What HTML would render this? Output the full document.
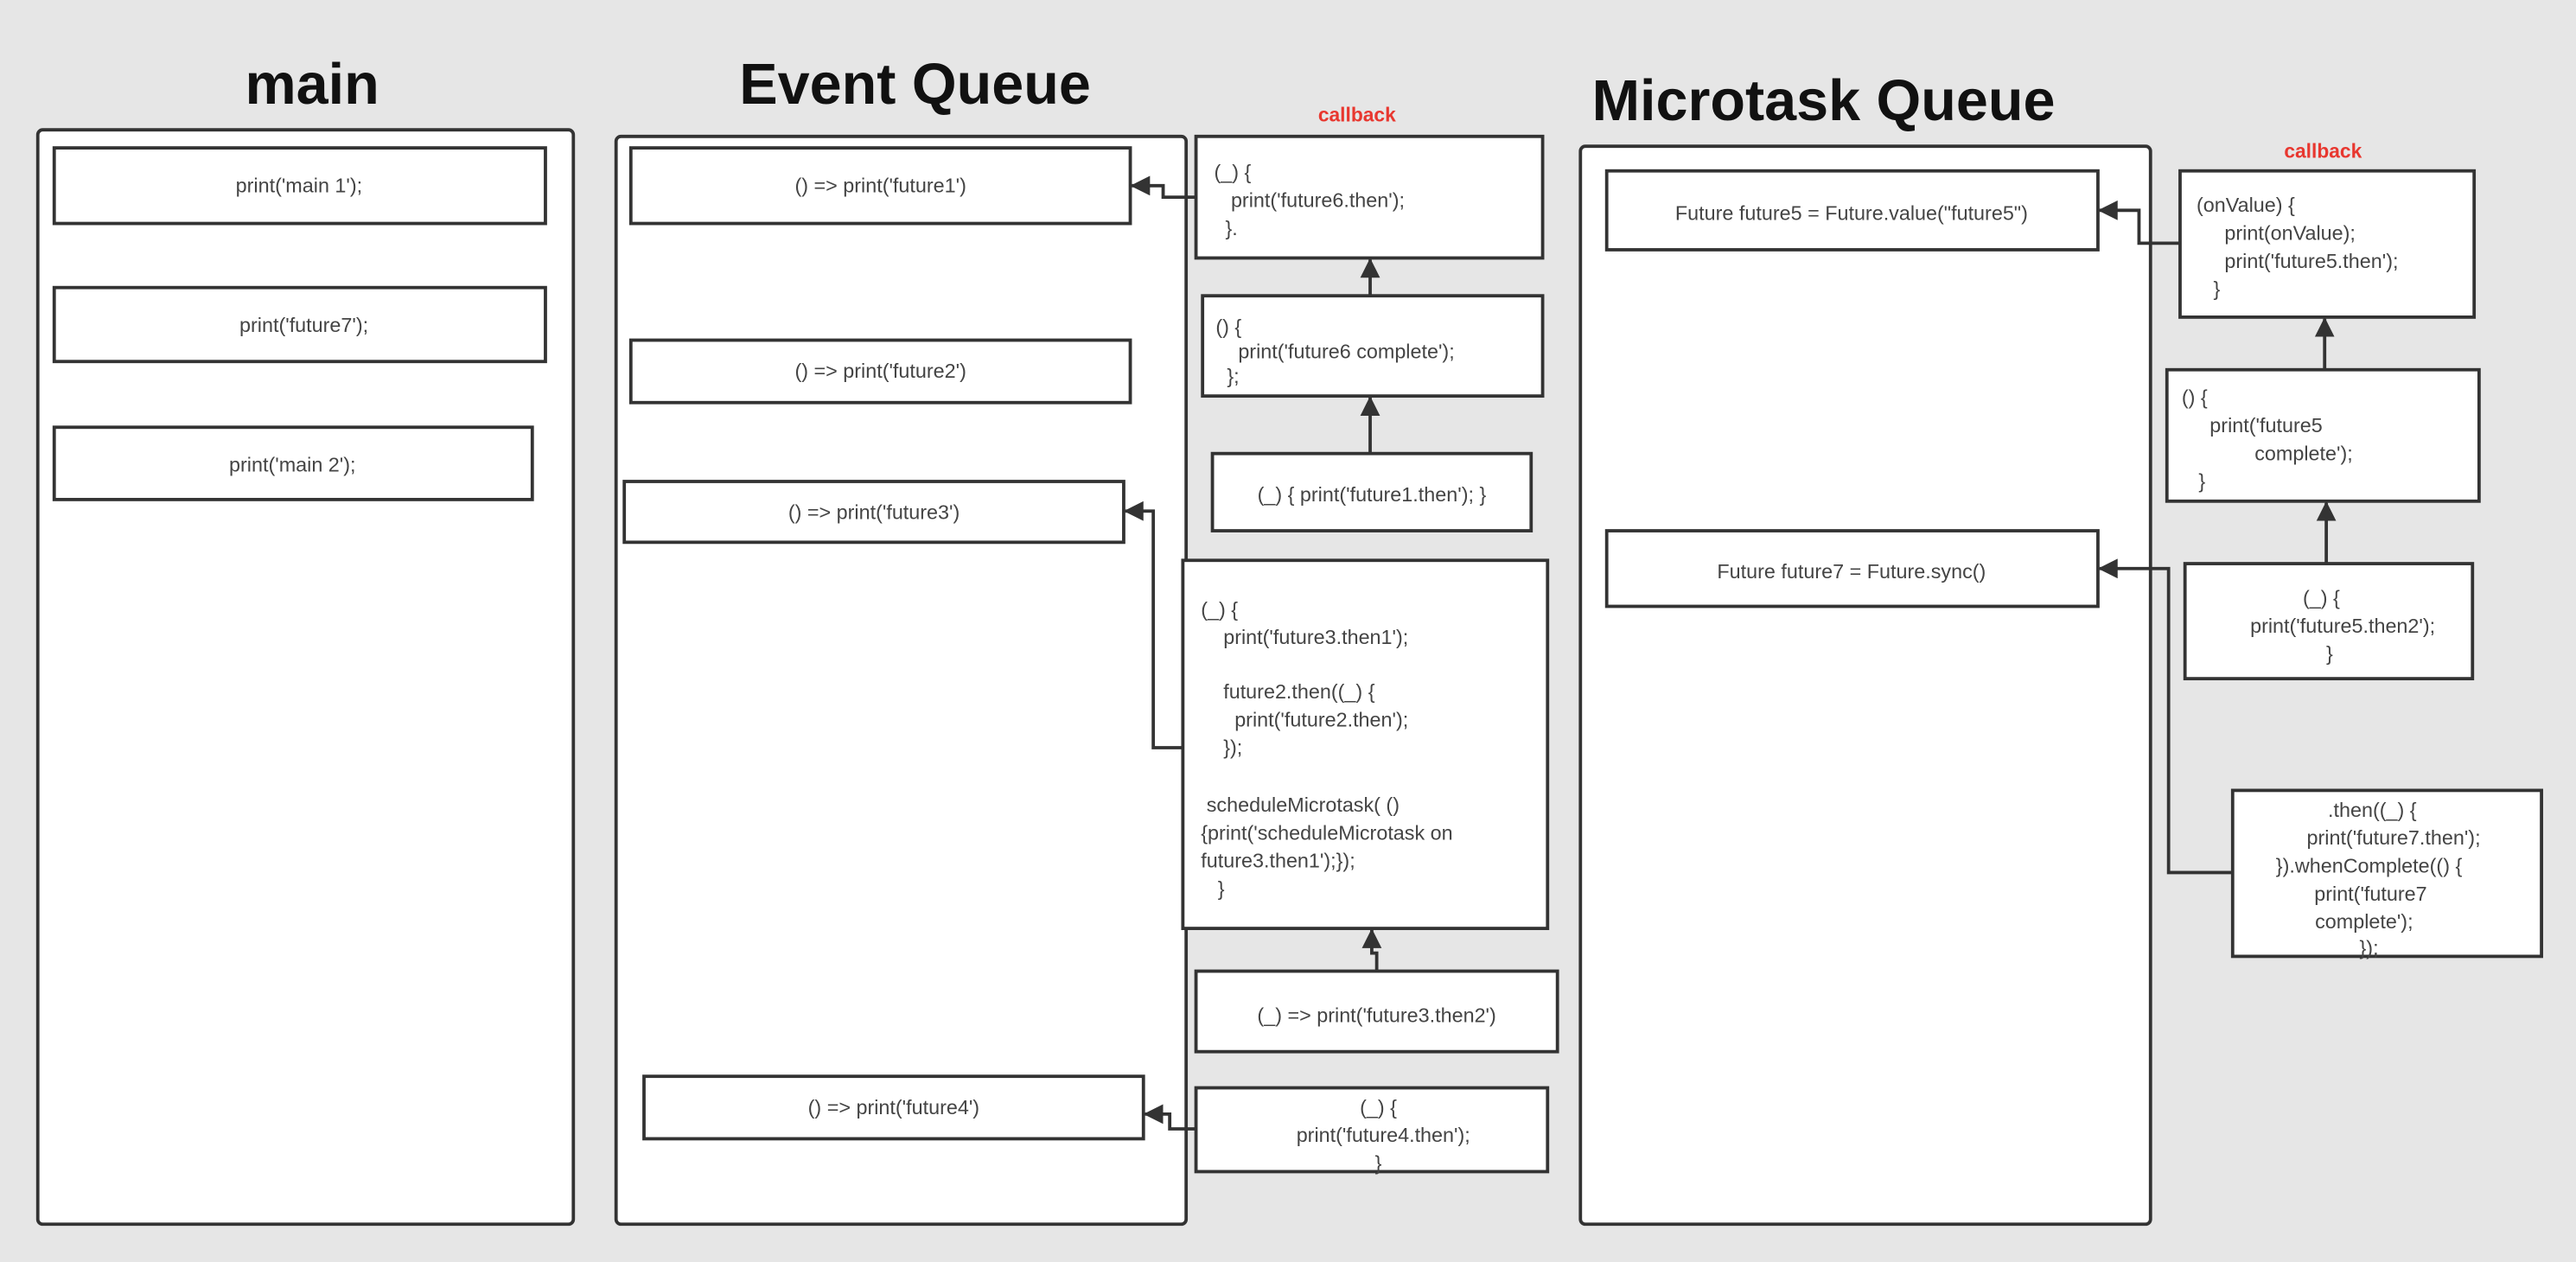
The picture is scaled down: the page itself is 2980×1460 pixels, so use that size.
<!DOCTYPE html>
<html><head><meta charset="utf-8"><style>
html,body{margin:0;padding:0;background:#e6e6e6;}
svg{display:block}
text{font-family:"Liberation Sans",sans-serif;font-size:12.3px;fill:#444;white-space:pre}
.t{font-size:35px;font-weight:bold;fill:#111}
.cb{font-size:12px;font-weight:bold;fill:#e8372f}
rect{fill:#fff;stroke:#333;stroke-width:2}
.ln{fill:none;stroke:#333;stroke-width:2}
</style></head><body>
<svg width="2980" height="1460" viewBox="0 0 1568 768" preserveAspectRatio="none" xmlns="http://www.w3.org/2000/svg">
<rect x="0" y="0" width="1568" height="768" style="fill:#e6e6e6;stroke:none"/>
<defs>
<marker id="b" markerWidth="12" markerHeight="12" refX="11" refY="6" orient="auto" markerUnits="userSpaceOnUse" viewBox="0 0 12 12"><path d="M0,0 L12,6 L0,12 Z" fill="#333"/></marker></defs>

<text class="t" x="190" y="63" text-anchor="middle">main</text>
<text class="t" x="557" y="63" text-anchor="middle">Event Queue</text>
<text class="t" x="1110" y="73" text-anchor="middle">Microtask Queue</text>

<rect x="23" y="79" width="326" height="666" rx="3"/>
<rect x="33" y="90" width="299" height="46"/><text x="182" y="117" text-anchor="middle">print('main 1');</text>
<rect x="33" y="175" width="299" height="45"/><text x="185" y="202" text-anchor="middle">print('future7');</text>
<rect x="33" y="260" width="291" height="44"/><text x="178" y="287" text-anchor="middle">print('main 2');</text>

<rect x="375" y="83" width="347" height="662" rx="3"/>
<rect x="384" y="90" width="304" height="46"/><text x="536" y="117" text-anchor="middle">() =&gt; print('future1')</text>
<rect x="384" y="207" width="304" height="38"/><text x="536" y="230" text-anchor="middle">() =&gt; print('future2')</text>
<rect x="380" y="293" width="304" height="37"/><text x="532" y="316" text-anchor="middle">() =&gt; print('future3')</text>
<rect x="392" y="655" width="304" height="38"/><text x="544" y="678" text-anchor="middle">() =&gt; print('future4')</text>

<text class="cb" x="826" y="74" text-anchor="middle">callback</text>
<rect x="728" y="83" width="211" height="74"/>
<text x="739" y="109">(_) {</text><text x="739" y="126">   print('future6.then');</text><text x="739" y="143">  }.</text>
<rect x="732" y="180" width="207" height="61"/>
<text x="740" y="203">() {</text><text x="740" y="218">    print('future6 complete');</text><text x="740" y="233">  };</text>
<rect x="738" y="276" width="194" height="47"/><text x="835" y="305" text-anchor="middle">(_) { print('future1.then'); }</text>
<rect x="720" y="341" width="222" height="224"/>
<text x="731" y="375">(_) {</text><text x="731" y="392">    print('future3.then1');</text>
<text x="731" y="425">    future2.then((_) {</text><text x="731" y="442">      print('future2.then');</text><text x="731" y="459">    });</text>
<text x="731" y="494"> scheduleMicrotask( ()</text><text x="731" y="511">{print('scheduleMicrotask on</text><text x="731" y="528">future3.then1');});</text><text x="731" y="545">   }</text>
<rect x="728" y="591" width="220" height="49"/><text x="838" y="622" text-anchor="middle">(_) =&gt; print('future3.then2')</text>
<rect x="728" y="662" width="214" height="51"/>
<text x="839" y="678" text-anchor="middle">(_) {</text><text x="842" y="695" text-anchor="middle">print('future4.then');</text><text x="839" y="712" text-anchor="middle">}</text>

<path class="ln" d="M728,120 L708,120 L708,113 L689,113" marker-end="url(#b)"/>
<path class="ln" d="M834,180 L834,158" marker-end="url(#b)"/>
<path class="ln" d="M834,276 L834,242" marker-end="url(#b)"/>
<path class="ln" d="M720,455 L702,455 L702,311 L685,311" marker-end="url(#b)"/>
<path class="ln" d="M838,591 L838,580 L835,580 L835,566" marker-end="url(#b)"/>
<path class="ln" d="M728,687 L712,687 L712,678 L697,678" marker-end="url(#b)"/>

<rect x="962" y="89" width="347" height="656" rx="3"/>
<rect x="978" y="104" width="299" height="48"/><text x="1127" y="134" text-anchor="middle">Future future5 = Future.value("future5")</text>
<rect x="978" y="323" width="299" height="46"/><text x="1127" y="352" text-anchor="middle">Future future7 = Future.sync()</text>

<text class="cb" x="1414" y="96" text-anchor="middle">callback</text>
<rect x="1327" y="104" width="179" height="89"/>
<text x="1337" y="129">(onValue) {</text><text x="1337" y="146">     print(onValue);</text><text x="1337" y="163">     print('future5.then');</text><text x="1337" y="180">   }</text>
<rect x="1319" y="225" width="190" height="80"/>
<text x="1328" y="246">() {</text><text x="1328" y="263">     print('future5</text><text x="1328" y="280">             complete');</text><text x="1328" y="297">   }</text>
<rect x="1330" y="343" width="175" height="70"/>
<text x="1413" y="368" text-anchor="middle">(_) {</text><text x="1426" y="385" text-anchor="middle">print('future5.then2');</text><text x="1418" y="402" text-anchor="middle">}</text>
<rect x="1359" y="481" width="188" height="101"/>
<text x="1444" y="497" text-anchor="middle">.then((_) {</text><text x="1457" y="514" text-anchor="middle">print('future7.then');</text><text x="1442" y="531" text-anchor="middle">}).whenComplete(() {</text><text x="1443" y="548" text-anchor="middle">print('future7</text><text x="1439" y="565" text-anchor="middle">complete');</text><text x="1442" y="581" text-anchor="middle">});</text>

<path class="ln" d="M1327,148 L1302,148 L1302,128 L1278,128" marker-end="url(#b)"/>
<path class="ln" d="M1415,225 L1415,194" marker-end="url(#b)"/>
<path class="ln" d="M1416,343 L1416,306" marker-end="url(#b)"/>
<path class="ln" d="M1359,531 L1320,531 L1320,346 L1278,346" marker-end="url(#b)"/>
</svg>
</body></html>
